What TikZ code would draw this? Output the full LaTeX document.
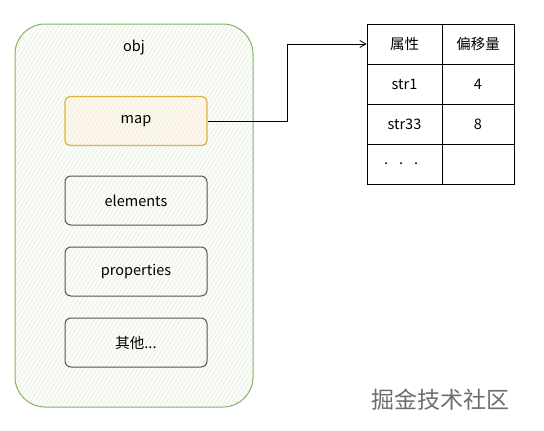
\documentclass[tikz,border=0pt]{standalone}
\usepackage{fontspec}
\setmainfont{Noto Sans CJK SC}
\usetikzlibrary{patterns.meta,arrows.meta,calc}
\definecolor{outergreen}{HTML}{82B366}
\definecolor{hatchgreen}{HTML}{DDEBD4}
\definecolor{bggreen}{HTML}{FCFDFB}
\definecolor{mapborder}{HTML}{E2B43C}
\definecolor{mapfill}{HTML}{FCF8EE}
\definecolor{maphatch}{HTML}{F0E6CC}
\definecolor{boxgray}{HTML}{555555}
\definecolor{wmgray}{HTML}{6E6E6E}
\tikzset{
  x=1pt, y=-1pt,
  every node/.style={font=\fontsize{14.5}{16}\selectfont, text=black},
  outerbox/.style={draw=outergreen, line width=1pt, rounded corners=30pt,
    preaction={fill=bggreen},
    pattern={Lines[angle=58,distance=3.5pt,line width=0.45pt]}, pattern color=hatchgreen},
  mapbox/.style={draw=mapborder, line width=1.3pt, rounded corners=5pt,
    minimum width=142pt, minimum height=49pt, inner sep=0pt,
    preaction={fill=mapfill},
    pattern={Lines[angle=58,distance=3.5pt,line width=0.45pt]}, pattern color=maphatch},
  fieldbox/.style={draw=boxgray, line width=1pt, rounded corners=6pt,
    minimum width=142pt, minimum height=49pt, inner sep=0pt},
  cellA/.style={draw=black, line width=0.9pt, fill=white, minimum width=75pt, minimum height=40pt, inner sep=0pt},
  cellB/.style={draw=black, line width=0.9pt, fill=white, minimum width=72pt, minimum height=40pt, inner sep=0pt},
  linkarrow/.style={draw=black, line width=0.8pt, -{Straight Barb[length=6pt,width=7pt]}},
}
\begin{document}
\begin{tikzpicture}
\useasboundingbox (0,0) rectangle (544,431);
% outer object box
\path[outerbox] (15,24) rectangle (253,407);
\node (obj) at (134,47) {obj};
% inner boxes
\node[mapbox] (map) at (136,121) {map};
\node[fieldbox] (elements) at (136,200.5) {elements};
\node[fieldbox] (properties) at (136,271.5) {properties};
\node[fieldbox] (other) at (136,342.5) {其他...};
% table
\node[cellA] (h1) at (404.5,44) {属性};
\node[cellB] (h2) at (478,44) {偏移量};
\node[cellA] (r1a) at (404.5,84) {str1};
\node[cellB] (r1b) at (478,84) {4};
\node[cellA] (r2a) at (404.5,124) {str33};
\node[cellB] (r2b) at (478,124) {8};
\node[cellA] (r3a) at (404.5,164) {\hbox to 75pt{\hskip17pt.\hskip11pt.\hskip11pt.\hfil}};
\node[cellB] (r3b) at (478,164) {};
% connector
\draw[linkarrow] (map.east) -- ++(80,0) |- (h1.west);
% watermark
\node[font=\fontsize{23}{25}\selectfont, text=wmgray] (wm) at (440,400) {掘金技术社区};
\end{tikzpicture}
\end{document}
